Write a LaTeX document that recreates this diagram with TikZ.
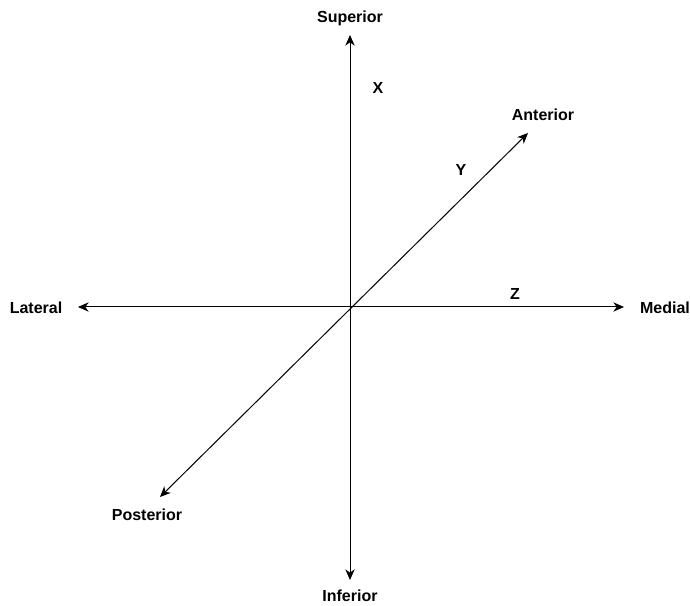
\documentclass[tikz,border=0pt]{standalone}
\usepackage{fontspec}
\setmainfont{Liberation Sans}
\usetikzlibrary{arrows.meta}

\begin{document}
\begin{tikzpicture}[
  x=0.75pt, y=-0.75pt,
  >={Stealth[length=8pt,width=7pt,inset=2.5pt]},
  axis/.style={line width=0.75pt},
  lbl/.style={font=\fontsize{12}{14}\selectfont\bfseries, inner sep=0pt}
]
  \useasboundingbox (0,0) rectangle (690,606);
  % axis ends
  \coordinate (top) at (350,35);
  \coordinate (bot) at (350,580);
  \coordinate (lft) at (78,307);
  \coordinate (rgt) at (624,307);
  \coordinate (ant) at (528,133);
  \coordinate (post) at (160,497);

  \node[lbl] (S) at (350,18) {Superior};
  \node[lbl] (I) at (350,596) {Inferior};
  \node[lbl] (L) at (36,308) {Lateral};
  \node[lbl] (M) at (665,308) {Medial};
  \node[lbl] (A) at (543,115) {Anterior};
  \node[lbl] (P) at (147,515) {Posterior};
  \node[lbl] (X) at (378,88) {X};
  \node[lbl] (Y) at (461,170) {Y};
  \node[lbl] (Z) at (515,294) {Z};

  \draw[axis,<->] (top) -- (bot);
  \draw[axis,<->] (lft) -- (rgt);
  \draw[axis,<->] (post) -- (ant);
\end{tikzpicture}
\end{document}
